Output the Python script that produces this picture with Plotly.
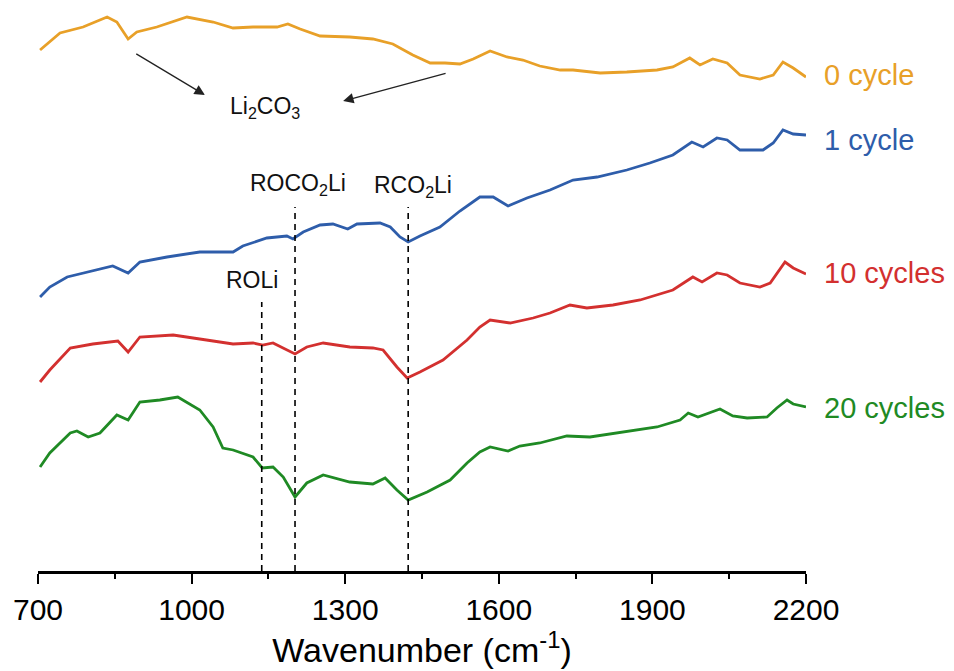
import plotly.graph_objects as go

# ---- data (wavenumber, cm^-1 ; intensity in arbitrary units, offset per curve) ----
wn_0 = [704, 743, 788, 835, 854, 876, 893, 932, 991, 1042, 1081, 1120, 1167, 1188, 1212, 1251,
        1309, 1354, 1393, 1432, 1466, 1495, 1524, 1550, 1583, 1616, 1647, 1680, 1720, 1745, 1798,
        1850, 1909, 1940, 1973, 1993, 2018, 2046, 2071, 2110, 2136, 2155, 2175, 2200]
int_0 = [521, 538, 544, 554, 549, 532, 539, 544, 554, 549, 543, 544, 544, 547, 542, 535,
         534, 532, 527, 516, 508, 508, 507, 512, 520, 514, 511, 505, 501, 501, 498,
         499, 501, 504, 513, 506, 512, 508, 496, 492, 496, 509, 503, 494]

wn_1 = [704, 723, 757, 796, 846, 876, 899, 952, 1016, 1081, 1100, 1147, 1186, 1198, 1218, 1251,
        1276, 1305, 1323, 1368, 1388, 1407, 1423, 1446, 1485, 1524, 1544, 1563, 1589, 1618, 1655,
        1700, 1745, 1792, 1850, 1895, 1940, 1977, 1999, 2026, 2046, 2071, 2116, 2136, 2155, 2175, 2200]
int_1 = [274, 284, 294, 299, 305, 298, 309, 314, 319, 319, 325, 333, 335, 332, 339, 346,
         347, 342, 347, 348, 344, 334, 329, 335, 344, 360, 367, 374, 374, 365, 373,
         381, 391, 394, 401, 408, 416, 429, 424, 433, 431, 421, 421, 428, 441, 437, 436]

wn_10 = [704, 723, 763, 807, 856, 876, 899, 964, 1016, 1081, 1120, 1139, 1159, 1202, 1225, 1257,
         1309, 1354, 1374, 1401, 1421, 1446, 1491, 1538, 1563, 1583, 1622, 1667, 1700, 1739, 1772,
         1823, 1876, 1940, 1979, 1997, 2026, 2046, 2071, 2110, 2130, 2159, 2175, 2200]
int_10 = [189, 201, 223, 227, 230, 219, 234, 236, 232, 227, 228, 226, 228, 217, 224, 228,
          224, 223, 221, 204, 193, 199, 211, 231, 244, 251, 248, 253, 258, 266, 263,
          266, 271, 281, 294, 289, 298, 296, 288, 284, 288, 309, 303, 297]

wn_20 = [704, 723, 763, 776, 798, 821, 854, 876, 899, 938, 973, 1016, 1042, 1061, 1081, 1120,
         1138, 1159, 1179, 1202, 1225, 1257, 1309, 1354, 1378, 1401, 1423, 1460, 1505, 1538, 1563,
         1583, 1618, 1641, 1680, 1733, 1778, 1843, 1909, 1954, 1970, 1989, 2032, 2057, 2085, 2124,
         2143, 2163, 2175, 2200]
int_20 = [104, 118, 138, 140, 134, 138, 156, 151, 169, 171, 174, 161, 144, 123, 121, 114,
          103, 104, 94, 74, 88, 96, 89, 87, 93, 81, 71, 79, 91, 108, 119,
          124, 120, 125, 128, 135, 134, 139, 144, 151, 158, 154, 162, 155, 153, 154,
          163, 171, 167, 164]

series_names = ["0 cycle", "1 cycle", "10 cycles", "20 cycles"]
series_x = [wn_0, wn_1, wn_10, wn_20]
series_y = [int_0, int_1, int_10, int_20]
colors = ["#E8A028", "#2E5DAA", "#D3302F", "#1F8A24"]
label_y = [496, 431, 298, 163]

# assignment markers
peak_names = ["ROLi", "ROCO<sub>2</sub>Li", "RCO<sub>2</sub>Li"]
peak_wn = [1137, 1202, 1423]
peak_top = [269, 364, 364]
peak_label_y = [291, 387, 385]
peak_label_x = [1118, 1208, 1432]

fig = go.Figure()
for name, xs, ys, c in zip(series_names, series_x, series_y, colors):
    fig.add_trace(go.Scatter(x=xs, y=ys, mode="lines", name=name,
                             line=dict(color=c, width=2.8), showlegend=False))

for w, top in zip(peak_wn, peak_top):
    fig.add_trace(go.Scatter(x=[w, w], y=[0, top], mode="lines",
                             line=dict(color="black", width=1.6, dash="6px,5px"),
                             showlegend=False, hoverinfo="skip"))

font_family = "Liberation Sans, Arial, sans-serif"

for name, c, ly in zip(series_names, colors, label_y):
    fig.add_annotation(x=1.021, y=ly, xref="paper", yref="y", text=name, showarrow=False,
                       xanchor="left", yanchor="middle",
                       font=dict(family=font_family, size=29, color=c))

for t, lx, ly in zip(peak_names, peak_label_x, peak_label_y):
    fig.add_annotation(x=lx, y=ly, xref="x", yref="y", text=t, showarrow=False,
                       xanchor="center", yanchor="middle",
                       font=dict(family=font_family, size=23, color="#111"))

fig.add_annotation(x=1143, y=464, xref="x", yref="y", text="Li<sub>2</sub>CO<sub>3</sub>",
                   showarrow=False, font=dict(family=font_family, size=23, color="#111"))
# arrows
for (tx, ty, hx, hy) in [(889, 518, 1026, 476), (1499, 498, 1296, 470)]:
    fig.add_annotation(x=hx, y=hy, ax=tx, ay=ty, xref="x", yref="y", axref="x", ayref="y",
                       text="", showarrow=True, arrowhead=2, arrowsize=1.6, arrowwidth=1.3,
                       arrowcolor="#222")

fig.update_layout(
    width=954, height=671,
    margin=dict(l=38, r=148, t=0, b=100),
    paper_bgcolor="white", plot_bgcolor="white",
    font=dict(family=font_family, color="black"),
)
fig.update_xaxes(range=[700, 2200], tickvals=[700, 1000, 1300, 1600, 1900, 2200],
                 showline=True, linecolor="black", linewidth=2.6, showgrid=False, zeroline=False,
                 ticks="outside", ticklen=10, tickwidth=2.4, tickcolor="black",
                 minor=dict(tickvals=[850, 1150, 1450, 1750, 2050], ticks="outside",
                            ticklen=5, tickwidth=2.4, tickcolor="black"),
                 tickfont=dict(size=30, family=font_family),
                 title=dict(text="Wavenumber (cm<sup>-1</sup>)", font=dict(size=34, family=font_family),
                            standoff=0))
fig.update_yaxes(range=[0, 571], visible=False, showgrid=False, zeroline=False)

fig.write_html("out.html")
